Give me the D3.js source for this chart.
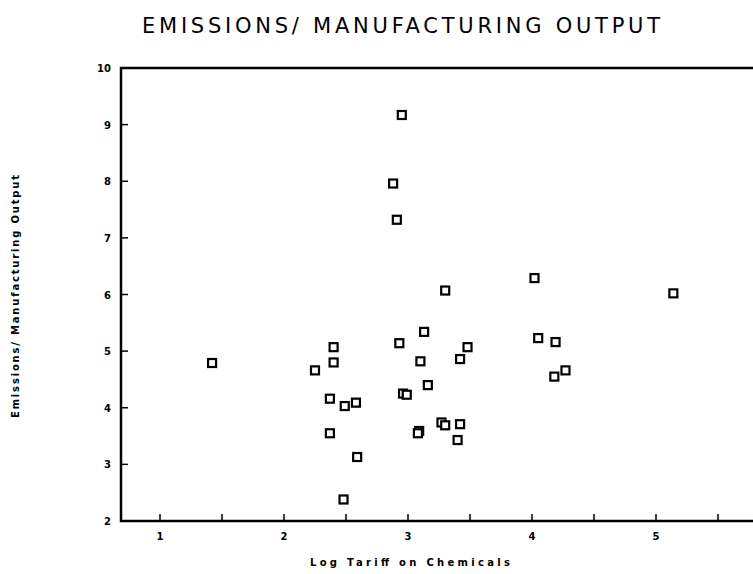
<!DOCTYPE html>
<html>
<head>
<meta charset="utf-8">
<script src="https://cdn.jsdelivr.net/npm/d3@7"></script>
<style>
  body { margin: 0; background: #fff; }
  svg { display: block; }
</style>
</head>
<body>
<svg id="chart" width="753" height="574"></svg>
<script>
// log tariff (x) vs emissions / manufacturing output (y)
var tariff = [1.42, 2.40, 2.40, 2.25, 2.37, 2.49, 2.58, 2.37, 2.59, 2.48,
              2.95, 2.88, 2.91, 3.30, 3.13, 2.93, 3.48, 3.42, 3.10, 3.16,
              2.96, 2.99, 3.09, 3.08, 3.27, 3.30, 3.42, 3.40, 4.02, 4.05,
              4.19, 4.27, 4.18, 5.14];
var emissions = [4.79, 5.07, 4.80, 4.66, 4.16, 4.03, 4.09, 3.55, 3.13, 2.38,
                 9.17, 7.96, 7.32, 6.07, 5.34, 5.14, 5.07, 4.86, 4.82, 4.40,
                 4.25, 4.23, 3.59, 3.55, 3.74, 3.69, 3.71, 3.43, 6.29, 5.23,
                 5.16, 4.66, 4.55, 6.02];
var xTicks = [1, 1.5, 2, 2.5, 3, 3.5, 4, 4.5, 5, 5.5];
var xLabels = [1, 2, 3, 4, 5];
var yTicks = [2, 3, 4, 5, 6, 7, 8, 9, 10];

var svg = d3.select("#chart");
var pLeft = 121, pRight = 753, pTop = 68, pBottom = 521;

var x = d3.scaleLinear().domain([1, 5]).range([160, 656]);
var y = d3.scaleLinear().domain([2, 10]).range([pBottom, pTop]);

var pts = tariff.map((t, i) => ({x: t, y: emissions[i]}));

// frame: left, bottom, top (open on the right)
svg.append("path")
    .attr("d", "M" + pRight + "," + pTop + "H" + pLeft + "V" + pBottom + "H" + pRight)
    .attr("fill", "none")
    .attr("stroke", "#000")
    .attr("stroke-width", 2.5);

// y ticks, pointing inwards
svg.selectAll(".yt").data(yTicks.slice(1, -1)).enter().append("line")
    .attr("x1", pLeft).attr("x2", pLeft + 7)
    .attr("y1", d => y(d)).attr("y2", d => y(d))
    .attr("stroke", "#000").attr("stroke-width", 1.5);

svg.selectAll(".yl").data(yTicks).enter().append("text")
    .attr("x", pLeft - 10).attr("y", d => y(d) + 4)
    .attr("text-anchor", "end")
    .style("font", "bold 10px 'DejaVu Sans'")
    .text(d => d);

// x ticks, pointing up
svg.selectAll(".xt").data(xTicks).enter().append("line")
    .attr("x1", d => x(d)).attr("x2", d => x(d))
    .attr("y1", pBottom).attr("y2", pBottom - 7)
    .attr("stroke", "#000").attr("stroke-width", 1.5);

svg.selectAll(".xl").data(xLabels).enter().append("text")
    .attr("x", d => x(d)).attr("y", pBottom + 19)
    .attr("text-anchor", "middle")
    .style("font", "bold 10px 'DejaVu Sans'")
    .text(d => d);

// markers
var s = 8;
svg.selectAll(".pt").data(pts).enter().append("rect")
    .attr("x", d => x(d.x) - s / 2).attr("y", d => y(d.y) - s / 2)
    .attr("width", s).attr("height", s)
    .attr("fill", "#fff").attr("stroke", "#000").attr("stroke-width", 2.2);

// titles
svg.append("text")
    .attr("x", 142).attr("y", 33)
    .attr("textLength", 518).attr("lengthAdjust", "spacing")
    .style("font", "21px 'DejaVu Sans'")
    .text("EMISSIONS/ MANUFACTURING OUTPUT");

svg.append("text")
    .attr("x", 310).attr("y", 566)
    .attr("textLength", 200).attr("lengthAdjust", "spacing")
    .style("font", "bold 10px 'DejaVu Sans'")
    .text("Log Tariff on Chemicals");

svg.append("text")
    .attr("transform", "translate(19,418) rotate(-90)")
    .attr("textLength", 243).attr("lengthAdjust", "spacing")
    .style("font", "bold 10px 'DejaVu Sans'")
    .text("Emissions/ Manufacturing Output");
</script>
</body>
</html>
